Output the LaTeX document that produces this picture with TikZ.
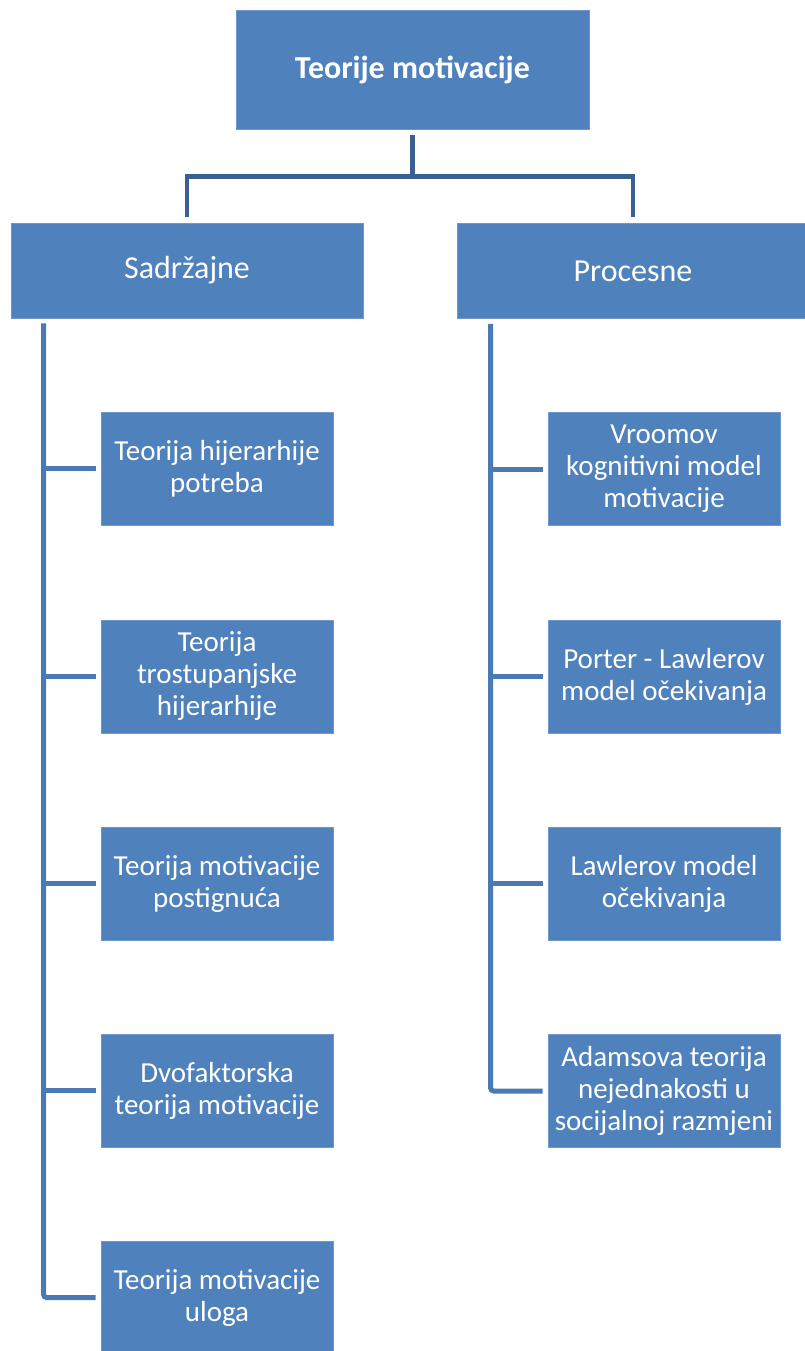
\documentclass[tikz,border=0pt]{standalone}
\usepackage{fontspec}
\setmainfont{Carlito}
\usetikzlibrary{positioning}
\definecolor{boxblue}{RGB}{79,129,189}
\definecolor{boxedge}{RGB}{110,152,204}
\definecolor{forkblue}{RGB}{58,96,144}
\definecolor{spineblue}{RGB}{74,122,181}
\tikzset{
  treebox/.style = {rectangle, fill=boxblue, draw=boxedge, line width=0.8pt,
    text=white, align=center, inner sep=0pt,
    font=\fontsize{29}{32}\selectfont},
  rootbox/.style = {treebox, minimum width=353pt, minimum height=119pt,
    font=\fontsize{32}{38}\selectfont\bfseries},% korijen
  groupbox/.style = {treebox, minimum width=352pt, minimum height=95pt,
    font=\fontsize{32}{38}\selectfont},% skupina teorija
  leafbox/.style = {treebox, minimum width=232pt, minimum height=113pt},% pojedina teorija
  forkline/.style = {draw=forkblue, line width=4.5pt},
  spineline/.style = {draw=spineblue, line width=5pt, rounded corners=3pt}
}
\begin{document}
\begin{tikzpicture}[x=1pt,y=-1pt]
\useasboundingbox (0,0) rectangle (804,1351);
\node [rootbox] (root) at (412.5,69.5) {Teorije motivacije};
\node [groupbox] (sad) at (187,270.5) {Sadržajne};
\node [groupbox] (pro) at (633,271) {Procesne};
% sadrzajne teorije
\node [leafbox] (s1) at (217,468.5) {Teorija hijerarhije\\potreba};
\node [leafbox] (s2) at (217,676.5) {Teorija\\trostupanjske\\hijerarhije};
\node [leafbox] (s3) at (217,883.5) {Teorija motivacije\\postignuća};
\node [leafbox] (s4) at (217,1090.5) {Dvofaktorska\\teorija motivacije};
\node [leafbox] (s5) at (217,1297.5) {Teorija motivacije\\uloga};
% procesne teorije
\node [leafbox] (p1) at (664,469) {Vroomov\\kognitivni model\\motivacije};
\node [leafbox] (p2) at (664,676.5) {Porter - Lawlerov\\model očekivanja};
\node [leafbox] (p3) at (664,883.5) {Lawlerov model\\očekivanja};
\node [leafbox] (p4) at (664,1091) {Adamsova teorija\\nejednakosti u\\socijalnoj razmjeni};
% racva ispod korijena
\draw [forkline] ([yshift=-6pt]root.south) -- ++(0,41) coordinate (fork);
\draw [forkline] ([yshift=6pt]sad.north) |- (fork) -| ([yshift=6pt]pro.north);
% lijeva okomica
\coordinate (ltop) at ([xshift=33pt,yshift=-5pt]sad.south west);
\draw [spineline] (ltop) |- ([xshift=-5pt]s5.west);
\foreach \n in {s1,s2,s3,s4}
  \draw [spineline] (ltop |- \n.west) -- ([xshift=-5pt]\n.west);
% desna okomica
\coordinate (rtop) at ([xshift=34pt,yshift=-5pt]pro.south west);
\draw [spineline] (rtop) |- ([xshift=-5pt]p4.west);
\foreach \n in {p1,p2,p3}
  \draw [spineline] (rtop |- \n.west) -- ([xshift=-5pt]\n.west);
\end{tikzpicture}
\end{document}
